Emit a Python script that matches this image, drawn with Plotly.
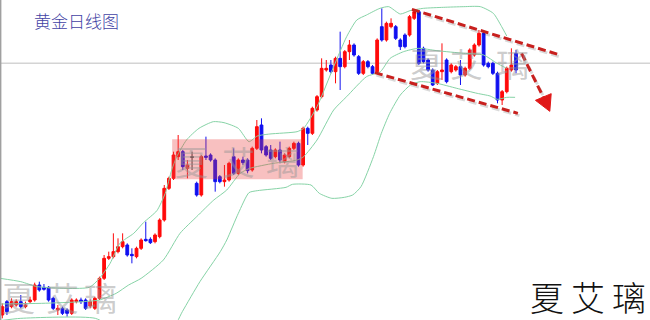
import plotly.graph_objects as go

# ---- candle data (daily gold, price units) ----
opens = [1555,1595,1580,1585,1595,1580,1595,1600,1645,1638,1638,1605,1570,1575,1570,1560,1595,1600,1600,1582,
         1575,1605,1665,1725,1730,1745,1760,1765,1737,1730,1755,1782,1782,1775,1790,1840,1935,1965,2030,2045,
         1995,2030,1950,1915,2032,2035,2020,1970,1955,1960,2030,1980,2020,2020,1990,2055,2125,2060,2050,2030,
         2050,2015,2030,2055,2070,2005,2115,2100,2170,2210,2290,2305,2285,2325,2300,2345,2365,2330,2280,2315,
         2300,2285,2420,2380,2420,2420,2380,2395,2395,2445,2465,2355,2320,2290,2250,2285,2320,2285,2290,2300,
         2275,2295,2335,2365,2400,2310,2310,2280,2200,2225,2290,2340]
highs = [1590,1600,1605,1602,1615,1595,1610,1652,1655,1648,1642,1610,1585,1580,1575,1605,1605,1607,1605,1602,
         1610,1670,1735,1745,1800,1785,1800,1770,1755,1760,1785,1835,1788,1800,1845,1945,1970,2045,2095,2050,
         2020,2045,1955,2035,2090,2040,2025,1975,2005,2015,2055,2025,2030,2025,2060,2140,2145,2065,2065,2055,
         2075,2040,2060,2075,2075,2120,2120,2180,2215,2325,2320,2320,2330,2405,2350,2380,2370,2335,2320,2320,
         2305,2385,2475,2435,2445,2425,2385,2400,2455,2470,2470,2360,2325,2295,2290,2370,2325,2310,2305,2320,
         2300,2355,2370,2410,2405,2315,2315,2285,2230,2300,2355,2350]
lows = [1545,1555,1575,1580,1575,1575,1590,1595,1625,1628,1595,1570,1555,1555,1550,1555,1590,1588,1570,1575,
        1570,1600,1660,1720,1725,1740,1755,1730,1710,1725,1750,1775,1768,1770,1785,1835,1930,1960,2020,1990,
        1965,1990,1910,1910,2020,2015,1925,1950,1940,1955,1975,1975,2005,1980,1985,2050,2040,2030,2020,2025,
        2010,2010,2025,2050,2000,2000,2065,2095,2165,2205,2285,2280,2250,2230,2295,2320,2330,2275,2275,2295,
        2275,2280,2375,2375,2415,2380,2350,2355,2390,2440,2305,2310,2285,2242,2245,2260,2250,2280,2285,2245,
        2270,2290,2330,2360,2300,2295,2275,2190,2185,2220,2285,2280]
closes = [1580,1565,1595,1595,1580,1585,1600,1645,1630,1632,1600,1575,1575,1560,1560,1600,1600,1595,1575,1595,
          1605,1665,1725,1730,1745,1760,1775,1735,1733,1755,1780,1778,1772,1795,1840,1935,1965,2035,2045,2000,
          2005,2028,1915,2030,2028,2020,1955,1955,1960,2010,1980,2020,2012,1988,2055,2120,2050,2035,2025,2050,
          2020,2035,2055,2070,2005,2115,2100,2175,2210,2295,2295,2285,2325,2300,2345,2365,2335,2280,2315,2300,
          2280,2380,2380,2430,2430,2385,2360,2360,2450,2465,2310,2315,2290,2245,2285,2290,2255,2305,2300,2275,
          2295,2350,2365,2400,2305,2300,2280,2200,2225,2295,2305,2290]
doji_days = [41]

# ---- Bollinger bands, sampled (day index, price) ----
upper_x = [-0.5,4.0,7.6,18.8,21.0,23.3,25.4,28.4,30.5,33.4,35.2,36.6,37.7,39.8,42.5,45.6,47.9,51.0,53.3,55.1,
           57.8,63.7,65.1,68.0,71.6,74.4,76.6,78.7,81.6,83.5,86.0,88.1,91.0,95.3,99.7,103.3,106.1,107.9,109.0]
upper_y = [1665,1655,1640,1638,1665,1710,1770,1800,1832,1868,1920,1990,2030,2080,2115,2135,2132,2115,2075,2092,
           2098,2105,2115,2180,2300,2390,2440,2455,2475,2480,2458,2468,2475,2478,2480,2480,2460,2420,2392]
mid_x = [-0.5,8.5,17.4,21.0,24.6,27.3,30.0,34.8,38.4,42.0,45.7,48.5,51.4,53.5,58.6,63.7,65.1,68.0,71.6,74.4,
         78.7,81.7,83.8,86.7,89.9,93.9,99.7,104.0,106.9,109.0]
mid_y = [1588,1590,1595,1600,1620,1645,1665,1720,1800,1850,1900,1930,1980,1995,2010,2020,2030,2080,2170,2210,
         2270,2285,2325,2345,2355,2348,2340,2335,2310,2295]
lower_x = [-0.5,4.0,20.1,24.6,30.9,36.3,38.9,42.7,47.1,48.5,51.0,53.3,55.1,61.3,62.7,66.7,68.5,71.2,73.9,75.7,
           77.5,80.2,81.9,83.7,86.0,88.2,90.3,93.9,98.2,102.6,105.4,107.0,109.0,110.8]
lower_y = [1538,1545,1545,1510,1470,1500,1565,1655,1745,1780,1860,1922,1928,1938,1947,1945,1920,1905,1908,1915,
           1940,2030,2100,2160,2215,2245,2255,2250,2235,2220,2212,2202,2208,2208]

# ---- annotations (day index, price) ----
box_days = [36.7, 64.9]
box_prices = [1962, 2082]
channel_top = [(88.5, 2472), (120.5, 2335)]
channel_bottom = [(80.5, 2282), (111.4, 2160)]
arrow_shaft = [(112.2, 2340), (116.9, 2209)]
arrow_head = [(115.2, 2199), (118.6, 2219), (118.3, 2166)]
ref_level = 2310

RED = "#ff0a0a"
BLUE = "#1010f0"
BAND = "#86d3a6"
DASH_RED = "#c8201e"

days = list(range(len(opens)))
main = [i for i in days if i not in doji_days]

fig = go.Figure()

for bx, by in [(upper_x, upper_y), (mid_x, mid_y), (lower_x, lower_y)]:
    fig.add_trace(go.Scatter(x=bx, y=by, mode="lines",
                             line=dict(color=BAND, width=1, shape="spline", smoothing=0.6),
                             hoverinfo="skip", showlegend=False))

fig.add_trace(go.Candlestick(
    x=[days[i] for i in main], open=[opens[i] for i in main], high=[highs[i] for i in main],
    low=[lows[i] for i in main], close=[closes[i] for i in main],
    increasing=dict(line=dict(color=RED, width=1), fillcolor=RED),
    decreasing=dict(line=dict(color=BLUE, width=1), fillcolor=BLUE),
    whiskerwidth=0, showlegend=False))
fig.add_trace(go.Candlestick(
    x=[days[i] for i in doji_days], open=[opens[i] for i in doji_days], high=[highs[i] for i in doji_days],
    low=[lows[i] for i in doji_days], close=[closes[i] for i in doji_days],
    increasing=dict(line=dict(color="#333333", width=1), fillcolor="#333333"),
    decreasing=dict(line=dict(color="#333333", width=1), fillcolor="#333333"),
    whiskerwidth=0, showlegend=False))

shapes = []
shapes.append(dict(type="line", xref="paper", yref="y", x0=0, x1=1, y0=ref_level, y1=ref_level,
                   line=dict(color="#d4d4d4", width=1.5), layer="below"))
shapes.append(dict(type="line", xref="paper", yref="paper", x0=0.001, x1=0.001, y0=0, y1=1,
                   line=dict(color="#a0a0a0", width=1.5)))
shapes.append(dict(type="rect", xref="x", yref="y", x0=box_days[0], x1=box_days[1],
                   y0=box_prices[0], y1=box_prices[1], fillcolor="rgba(232,60,60,0.32)",
                   line=dict(width=0), layer="above"))

sdx, sdy = 0.35, -7
for (a, b) in [channel_top, channel_bottom, arrow_shaft]:
    shapes.append(dict(type="line", xref="x", yref="y", x0=a[0] + sdx, y0=a[1] + sdy,
                       x1=b[0] + sdx, y1=b[1] + sdy,
                       line=dict(color="rgba(0,0,0,0.15)", width=3, dash="8px,4px")))
for (a, b) in [channel_top, channel_bottom, arrow_shaft]:
    shapes.append(dict(type="line", xref="x", yref="y", x0=a[0], y0=a[1], x1=b[0], y1=b[1],
                       line=dict(color=DASH_RED, width=3, dash="8px,4px")))
path = "M {} {} L {} {} L {} {} Z".format(*[v for pt in arrow_head for v in pt])
shapes.append(dict(type="path", xref="x", yref="y", path=path, fillcolor="#e01818",
                   line=dict(color="#e01818", width=1)))

annotations = []
annotations.append(dict(text="黄金日线图", xref="paper", yref="paper", x=76/650, y=1-20/320,
                        showarrow=False, xanchor="center", yanchor="middle",
                        font=dict(family="Noto Sans CJK SC", size=17, color="#4242a4", weight=300)))
wm_gray = "rgba(150,150,150,0.48)"
faint_marks = [((18, 62, 100), 297), ((191, 238, 282), 161), ((426, 466, 512), 63)]
chars = ["夏", "艾", "璃"]
for xs, yc in faint_marks:
    for ch, xc in zip(chars, xs):
        annotations.append(dict(text=ch, xref="paper", yref="paper", x=xc/650, y=1-yc/320,
                                showarrow=False, xanchor="center", yanchor="middle",
                                font=dict(family="Noto Sans CJK SC", size=33, color=wm_gray)))
for ch, xc in zip(chars, (547, 588, 629)):
    annotations.append(dict(text=ch, xref="paper", yref="paper", x=xc/650, y=1-296/320,
                            showarrow=False, xanchor="center", yanchor="middle",
                            font=dict(family="Noto Sans CJK SC", size=34, color="#111111", weight=300)))

fig.update_layout(
    width=650, height=320, margin=dict(l=0, r=0, t=0, b=0),
    paper_bgcolor="white", plot_bgcolor="white", showlegend=False,
    boxgap=0.25, boxgroupgap=0.2,
    xaxis=dict(range=[-0.497, 139.95], visible=False, rangeslider=dict(visible=False), fixedrange=True),
    yaxis=dict(range=[1540, 2500], visible=False, fixedrange=True),
    shapes=shapes, annotations=annotations,
)

fig.write_html("out.html", config={"displayModeBar": False})
